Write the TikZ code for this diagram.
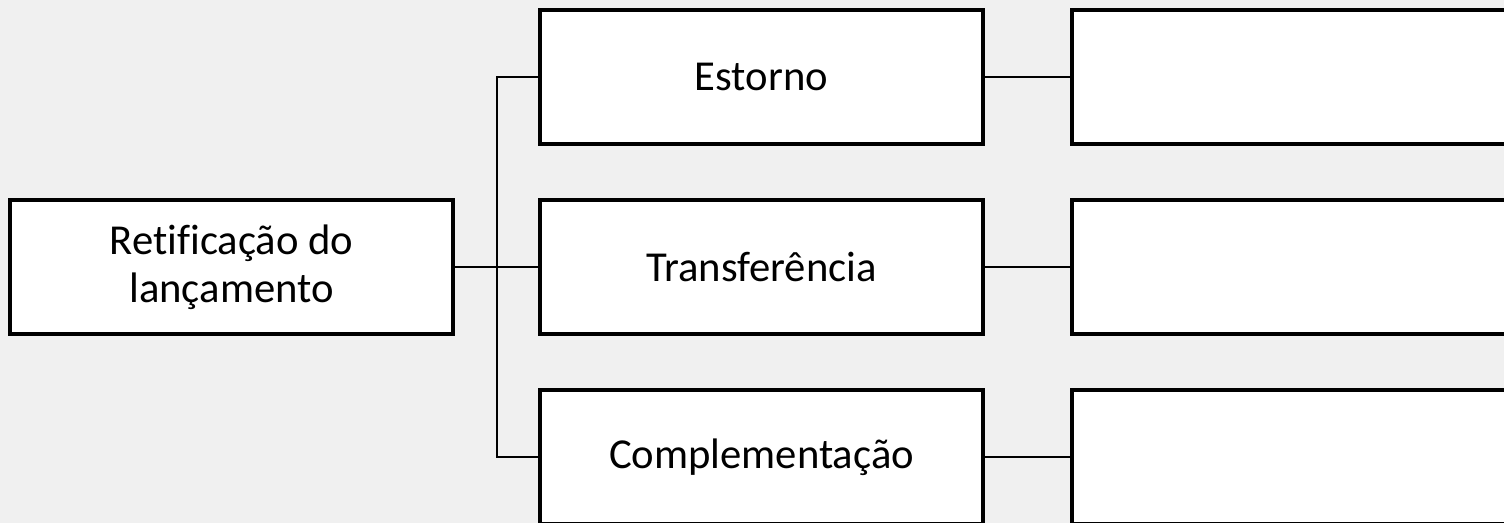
\documentclass[tikz,border=0pt]{standalone}
\usepackage{fontspec}
\setmainfont[Ligatures=NoCommon]{Carlito}
\usetikzlibrary{positioning}
\definecolor{bggray}{HTML}{F0F0F0}

\tikzset{
  box/.style={draw=black, fill=white, line width=2.6pt, minimum width=443*0.75pt,
    minimum height=134*0.75pt, inner sep=0pt, align=center,
    font=\fontsize{32}{36}\selectfont},
  link/.style={line width=1.5pt, black}
}

\begin{document}
\begin{tikzpicture}[x=0.75pt, y=-0.75pt]
\fill[bggray] (0,0) rectangle (1504,523);
\useasboundingbox (0,0) rectangle (1504,523);
\clip (0,0) rectangle (1504,523);

\node[box] (retif) at (231.5,267) {Retificação do\\lançamento};

\node[box] (estorno) at (761.5,77) {Estorno};
\node[box] (transf) at (761.5,267) {Transferência};
\node[box] (compl) at (761.5,457) {Complementação};

% boxes on the right, left empty
\node[box] (estR) at (1293.5,77) {};
\node[box] (transfR) at (1293.5,267) {};
\node[box] (complR) at (1293.5,457) {};

\coordinate (split) at (497,267);

\draw[link] (retif.east) -- (transf.west);
\draw[link] (split) |- (estorno.west);
\draw[link] (split) |- (compl.west);

\draw[link] (estorno.east) -- (estR.west);
\draw[link] (transf.east) -- (transfR.west);
\draw[link] (compl.east) -- (complR.west);
\end{tikzpicture}
\end{document}
